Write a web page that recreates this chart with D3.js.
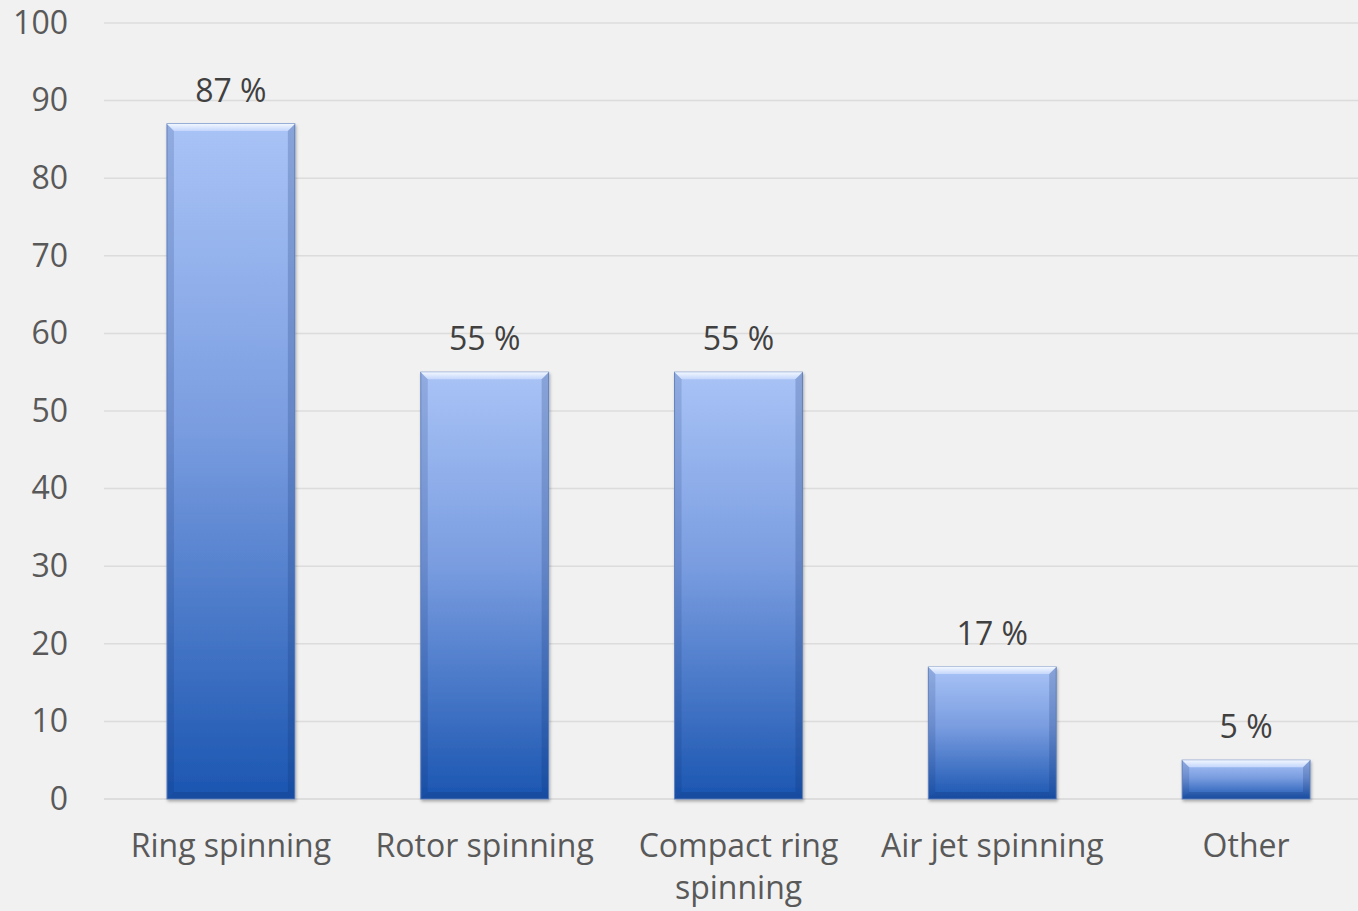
<!DOCTYPE html>
<html>
<head>
<meta charset="utf-8">
<style>
  body { margin: 0; background: #f1f1f1; }
  svg { display: block; }
  .tick text { font-family: "Open Sans", sans-serif; fill: #595959; }
</style>
</head>
<body>
<svg width="1358" height="911"></svg>
<script src="https://cdnjs.cloudflare.com/ajax/libs/d3/7.8.5/d3.min.js"></script>
<script>

// chart data
var categories = ["Ring spinning", "Rotor spinning", "Compact ring spinning", "Air jet spinning", "Other"];
var shares = [87, 55, 55, 17, 5];
var yTicks = [0, 10, 20, 30, 40, 50, 60, 70, 80, 90, 100];

var svg = d3.select("svg"),
    W = +svg.attr("width"),
    H = +svg.attr("height");

var x = d3.scaleBand()
    .domain(categories)
    .range([104, 1373])
    .paddingInner(0.496)
    .paddingOuter(0.248);

var y = d3.scaleLinear()
    .domain([0, 100])
    .range([799, 23]);

var defs = svg.append("defs");

var grad = defs.append("linearGradient")
    .attr("id", "barFill")
    .attr("x1", 0).attr("y1", 0).attr("x2", 0).attr("y2", 1);
grad.append("stop").attr("offset", "0%").attr("stop-color", "#a9c3f6");
grad.append("stop").attr("offset", "45%").attr("stop-color", "#7a9de0");
grad.append("stop").attr("offset", "100%").attr("stop-color", "#1b56b1");

var topBevel = defs.append("linearGradient")
    .attr("id", "topBevel")
    .attr("x1", 0).attr("y1", 0).attr("x2", 0).attr("y2", 1);
topBevel.append("stop").attr("offset", "0%").attr("stop-color", "#f2f7ff");
topBevel.append("stop").attr("offset", "100%").attr("stop-color", "#c4d6fb");

var shadow = defs.append("filter").attr("id", "shadow")
    .attr("x", "-10%").attr("y", "-10%").attr("width", "130%").attr("height", "130%");
shadow.append("feDropShadow")
    .attr("dx", 1).attr("dy", 2).attr("stdDeviation", 1.5)
    .attr("flood-color", "#000").attr("flood-opacity", 0.3);

// gridlines
svg.append("g")
    .selectAll("line")
    .data(yTicks)
    .join("line")
    .attr("x1", 104).attr("x2", W)
    .attr("y1", function(d) { return y(d); })
    .attr("y2", function(d) { return y(d); })
    .attr("stroke", function(d) { return d === 0 ? "#d6d6d6" : "#dcdcdc"; })
    .attr("stroke-width", 1.5);

// y axis labels
var yAxis = svg.append("g")
    .attr("transform", "translate(68,0)")
    .call(d3.axisLeft(y).tickValues(yTicks).tickSize(0).tickPadding(0));
yAxis.select(".domain").remove();
yAxis.selectAll("text").style("font-size", "32px");

// bars
var bev = 7;
var bars = svg.append("g")
    .selectAll("g")
    .data(categories)
    .join("g")
    .attr("transform", function(d) { return "translate(" + x(d) + ",0)"; });

bars.append("rect")
    .attr("x", 0)
    .attr("y", function(d, i) { return y(shares[i]); })
    .attr("width", x.bandwidth())
    .attr("height", function(d, i) { return y(0) - y(shares[i]); })
    .attr("fill", "url(#barFill)")
    .attr("stroke", "#6d8cc4")
    .attr("stroke-width", 1)
    .attr("filter", "url(#shadow)");

// top bevel
bars.append("path")
    .attr("d", function(d, i) {
      var t = y(shares[i]), w = x.bandwidth();
      return "M0," + t + "L" + w + "," + t + "L" + (w - bev) + "," + (t + bev) + "L" + bev + "," + (t + bev) + "Z";
    })
    .attr("fill", "url(#topBevel)");

// left and right bevels
bars.append("path")
    .attr("d", function(d, i) {
      var t = y(shares[i]), b = y(0);
      return "M0," + t + "L" + bev + "," + (t + bev) + "L" + bev + "," + (b - bev) + "L0," + b + "Z";
    })
    .attr("fill", "#0c2a66")
    .attr("opacity", 0.15);
bars.append("path")
    .attr("d", function(d, i) {
      var t = y(shares[i]), b = y(0), w = x.bandwidth();
      return "M" + w + "," + t + "L" + (w - bev) + "," + (t + bev) + "L" + (w - bev) + "," + (b - bev) + "L" + w + "," + b + "Z";
    })
    .attr("fill", "#0c2a66")
    .attr("opacity", 0.2);
bars.append("path")
    .attr("d", function(d, i) {
      var b = y(0), w = x.bandwidth();
      return "M0," + b + "L" + bev + "," + (b - bev) + "L" + (w - bev) + "," + (b - bev) + "L" + w + "," + b + "Z";
    })
    .attr("fill", "#0c2a66")
    .attr("opacity", 0.22);

// value labels
bars.append("text")
    .attr("x", x.bandwidth() / 2)
    .attr("y", function(d, i) { return y(shares[i]) - 22; })
    .attr("text-anchor", "middle")
    .style("font-family", "'Open Sans', sans-serif")
    .style("font-size", "32px")
    .attr("fill", "#404040")
    .text(function(d, i) { return shares[i] + " %"; });

// x axis labels
var xAxis = svg.append("g")
    .attr("transform", "translate(0," + y(0) + ")")
    .call(d3.axisBottom(x).tickSize(0).tickPadding(0));
xAxis.select(".domain").remove();
xAxis.selectAll("text")
    .style("font-size", "32px")
    .attr("dy", null)
    .attr("y", 0)
    .each(function(d) {
      var t = d3.select(this);
      var lines = d === "Compact ring spinning" ? ["Compact ring", "spinning"] : [d];
      t.text(null);
      lines.forEach(function(l, k) {
        t.append("tspan").attr("x", 0).attr("y", 58 + k * 42).text(l);
      });
    });

</script>
</body>
</html>
